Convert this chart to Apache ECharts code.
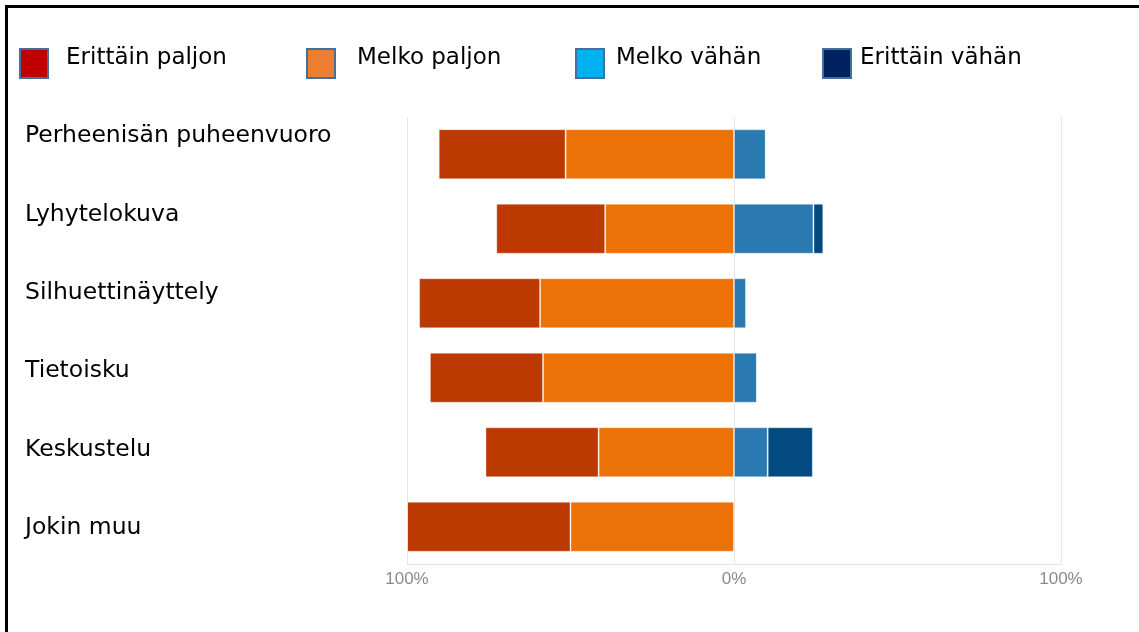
<!DOCTYPE html>
<html>
<head>
<meta charset="utf-8">
<script src="https://cdn.jsdelivr.net/npm/echarts@6/dist/echarts.min.js"></script>
<style>
  html, body { margin: 0; padding: 0; background: #fff; overflow: hidden; }
  #frame { position: absolute; left: 5px; top: 5px; width: 3000px; height: 3000px;
           border-left: 3px solid #000; border-top: 3px solid #000; box-sizing: border-box; }
  #chart { position: absolute; left: 0; top: 0; width: 1139px; height: 632px; }
</style>
</head>
<body>
<div id="frame"></div>
<div id="chart"></div>
<script>
// Categories (top to bottom)
const categories = ['Perheenisän puheenvuoro', 'Lyhytelokuva', 'Silhuettinäyttely', 'Tietoisku', 'Keskustelu', 'Jokin muu'];
// Series names
const seriesNames = ['Erittäin paljon', 'Melko paljon', 'Melko vähän', 'Erittäin vähän'];
// Values in percent
const erittainPaljon = [38.8, 33.3, 37.0, 34.6, 34.6, 50.0];
const melkoPaljon    = [51.5, 39.4, 59.3, 58.4, 41.4, 50.0];
const melkoVahan     = [9.7, 24.3, 3.7, 7.0, 10.3, 0];
const erittainVahan  = [0, 3.0, 0, 0, 13.8, 0];
// Axis ticks
const axisMin = -100, axisMax = 100, axisStep = 100;

const barColors = ['#bc3a02', '#ec7107', '#2b79b1', '#034a80'];
const legendColors = ['#c00000', '#ed7d31', '#00b0f0', '#002060'];
const legendPos = [
  { left: 19, pad: 13 },
  { left: 306, pad: 17 },
  { left: 575, pad: 7 },
  { left: 822, pad: 4 }
];

const font = "'DejaVu Sans', sans-serif";

const chart = echarts.init(document.getElementById('chart'), null, { renderer: 'canvas' });

const legends = seriesNames.map((name, i) => ({
  left: legendPos[i].left,
  top: 47,
  padding: 0,
  orient: 'horizontal',
  icon: 'rect',
  itemWidth: 28,
  itemHeight: 29,
  selectedMode: false,
  data: [{ name: name, itemStyle: { color: legendColors[i], borderColor: '#41719c', borderWidth: 2 } }],
  formatter: n => '{t|' + n + '}',
  textStyle: {
    fontFamily: font, fontSize: 23, color: '#000',
    rich: { t: { fontFamily: font, fontSize: 23, color: '#000', padding: [0, 0, 10, legendPos[i].pad] } }
  }
}));

const barBorder = { borderColor: 'rgba(255,255,255,0.35)', borderWidth: 1 };

const option = {
  animation: false,
  backgroundColor: 'transparent',
  legend: legends,
  grid: [
    { left: 407, right: 78, top: 117, bottom: 68, containLabel: false },
    { left: 400, right: 78, top: 97, bottom: 65, containLabel: false }
  ],
  xAxis: [
    {
      gridIndex: 0,
      type: 'value',
      min: axisMin, max: axisMax, interval: axisStep,
      axisLine: { show: true, lineStyle: { color: '#e3e3e3', width: 1 } },
      axisTick: { show: false },
      splitLine: { show: true, lineStyle: { color: '#e6e6e6', width: 1 } },
      axisLabel: {
        color: '#8a8a8a', fontFamily: "'Liberation Sans', Arial, sans-serif", fontSize: 17, margin: 7,
        formatter: v => Math.abs(v) + '%'
      }
    },
    { gridIndex: 1, type: 'value', show: false, min: 0, max: 1 }
  ],
  yAxis: [
    {
      gridIndex: 0,
      type: 'category',
      inverse: true,
      data: categories,
      axisLine: { show: false },
      axisTick: { show: false },
      axisLabel: { show: false },
      splitLine: { show: false }
    },
    {
      gridIndex: 1,
      type: 'category',
      inverse: true,
      data: categories,
      axisLine: { show: false },
      axisTick: { show: false },
      splitLine: { show: false },
      axisLabel: { show: true, align: 'left', margin: 375, fontFamily: font, fontSize: 23.5, color: '#000' }
    }
  ],
  series: [
    {
      name: 'Melko paljon', type: 'bar', stack: 'total', barWidth: 50,
      xAxisIndex: 0, yAxisIndex: 0,
      itemStyle: Object.assign({ color: barColors[1] }, barBorder),
      data: melkoPaljon.map(v => -v)
    },
    {
      name: 'Erittäin paljon', type: 'bar', stack: 'total', barWidth: 50,
      xAxisIndex: 0, yAxisIndex: 0,
      itemStyle: Object.assign({ color: barColors[0] }, barBorder),
      data: erittainPaljon.map(v => -v)
    },
    {
      name: 'Melko vähän', type: 'bar', stack: 'total', barWidth: 50,
      xAxisIndex: 0, yAxisIndex: 0,
      itemStyle: Object.assign({ color: barColors[2] }, barBorder),
      data: melkoVahan
    },
    {
      name: 'Erittäin vähän', type: 'bar', stack: 'total', barWidth: 50,
      xAxisIndex: 0, yAxisIndex: 0,
      itemStyle: Object.assign({ color: barColors[3] }, barBorder),
      data: erittainVahan
    }
  ]
};

chart.setOption(option);
</script>
</body>
</html>
